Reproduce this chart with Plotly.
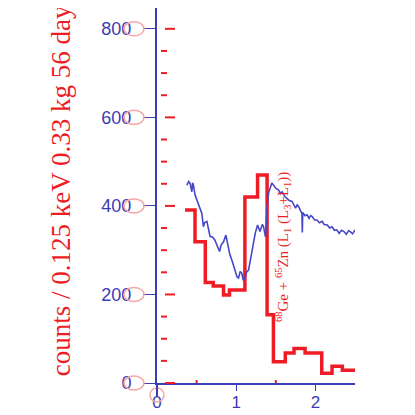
import plotly.graph_objects as go

# ---- data ----
# red histogram : bin edges (keV) and counts per bin
hist_edges = [0.354, 0.48, 0.61, 0.71, 0.84, 0.915, 1.11, 1.27, 1.39, 1.47,
              1.62, 1.73, 1.87, 2.08, 2.21, 2.34, 2.5]
hist_counts = [391, 319, 227, 219, 199, 210, 420, 470, 154, 48,
               68, 78, 68, 22, 38, 29]

# blue spectrum (noisy line)
spec_e = [0.376, 0.40, 0.418, 0.43, 0.44, 0.45, 0.46, 0.48, 0.50, 0.52,
          0.54, 0.566, 0.586, 0.60, 0.63, 0.65, 0.67, 0.70, 0.73, 0.76,
          0.79, 0.81, 0.84, 0.87, 0.90, 0.92, 0.945, 0.97, 0.99, 1.01,
          1.03, 1.05, 1.07, 1.09, 1.11, 1.13, 1.156, 1.18, 1.20, 1.22,
          1.24, 1.27, 1.29, 1.30, 1.33, 1.345, 1.37, 1.39, 1.41, 1.43,
          1.45, 1.47, 1.50, 1.535, 1.56, 1.58, 1.60, 1.62, 1.64, 1.67,
          1.705, 1.73, 1.75, 1.77, 1.79, 1.81, 1.83, 1.835, 1.84, 1.87,
          1.895, 1.92, 1.94, 1.96, 1.99, 2.02, 2.05, 2.085, 2.11, 2.15,
          2.18, 2.21, 2.24, 2.27, 2.30, 2.33, 2.36, 2.39, 2.42, 2.44,
          2.47, 2.5]
spec_c = [447, 455, 451, 440, 432, 452, 447, 425, 414, 405,
          392, 383, 353, 362, 365, 345, 331, 330, 323, 310,
          297, 312, 319, 334, 308, 290, 278, 262, 255, 240,
          237, 252, 248, 232, 237, 250, 255, 280, 301, 320,
          338, 357, 345, 342, 358, 353, 330, 398, 430, 444,
          452, 447, 440, 436, 428, 432, 425, 420, 417, 412,
          410, 400, 395, 402, 398, 390, 383, 340, 385, 378,
          380, 372, 378, 376, 368, 368, 362, 365, 358, 357,
          350, 353, 345, 346, 338, 345, 342, 336, 344, 342,
          337, 346]

y_major = [0, 200, 400, 600, 800]
y_minor = [50, 100, 150, 250, 300, 350, 450, 500, 550, 650, 700, 750]
x_major = [0, 1, 2]
x_minor = [0.5, 1.5]

label_text = ("<sup>68</sup>Ge + <sup>65</sup>Zn (L<sub>1</sub> "
              "(L<sub>3</sub>+L<sub>1</sub>))")
y_title = "counts / 0.125 keV 0.33 kg 56 days"

RED = "#ee1c24"
BLUE = "#3c3cb4"
PINK = "#f4a8a8"
Y_TOP = 847
X_MAX = 2.5

fig = go.Figure()

# histogram as steps
fig.add_trace(go.Scatter(
    x=hist_edges,
    y=hist_counts + [hist_counts[-1]],
    mode="lines",
    line=dict(color=RED, width=3.5, shape="hv"),
    hoverinfo="none"
))

fig.add_trace(go.Scatter(
    x=spec_e,
    y=spec_c,
    mode="lines",
    line=dict(color="#4646c8", width=1.6),
    hoverinfo="none"
))

# =====================================================
# decorations : red ticks, pink circles (scan artefacts)
# paper refs so nothing gets clipped by the plot area
# =====================================================
shapes = []
for v in y_major:
    yp = v / Y_TOP
    shapes.append(dict(type="line", xref="paper", xsizemode="pixel", xanchor=0,
                       x0=8, x1=18, yref="paper", y0=yp, y1=yp,
                       line=dict(color=RED, width=2)))
    shapes.append(dict(type="circle", xref="paper", xsizemode="pixel", xanchor=0,
                       x0=-33, x1=-13, yref="paper", ysizemode="pixel", yanchor=yp,
                       y0=-7, y1=7, line=dict(color=PINK, width=1.5)))
for v in y_minor:
    yp = v / Y_TOP
    shapes.append(dict(type="line", xref="paper", xsizemode="pixel", xanchor=0,
                       x0=4, x1=10, yref="paper", y0=yp, y1=yp,
                       line=dict(color=RED, width=2)))
for v in x_minor:
    xp = v / X_MAX
    shapes.append(dict(type="line", xref="paper", x0=xp, x1=xp, yref="paper",
                       ysizemode="pixel", yanchor=0, y0=0, y1=3,
                       line=dict(color=RED, width=2)))
# circle under the origin and y axis running below 0
shapes.append(dict(type="circle", xref="paper", xsizemode="pixel", xanchor=0,
                   x0=-7, x1=7, yref="paper", ysizemode="pixel", yanchor=0,
                   y0=-19, y1=-5, line=dict(color=PINK, width=1.5)))
shapes.append(dict(type="line", xref="paper", x0=0, x1=0, yref="paper",
                   ysizemode="pixel", yanchor=0, y0=0, y1=-14,
                   line=dict(color=BLUE, width=2)))

# page body has an 8px margin -> figure is 407 wide/high
fig.update_layout(
    width=407, height=407,
    margin=dict(l=149, r=60, t=0, b=32),
    paper_bgcolor="white", plot_bgcolor="white",
    showlegend=False,
    shapes=shapes,
    xaxis=dict(
        range=[0, X_MAX], showgrid=False, zeroline=False, automargin=False,
        showline=True, linecolor=BLUE, linewidth=2,
        tickvals=x_major, ticks="outside", ticklen=6, tickcolor=BLUE,
        tickfont=dict(family="Liberation Sans", size=17, color=BLUE),
        ticklabelstandoff=-3,
    ),
    yaxis=dict(
        range=[0, Y_TOP], showgrid=False, zeroline=False, automargin=False,
        showline=True, linecolor=BLUE, linewidth=2,
        tickvals=y_major, ticks="outside", ticklen=12, tickcolor=BLUE,
        tickfont=dict(family="Liberation Sans", size=18, color=BLUE),
        ticklabelstandoff=8,
    ),
    annotations=[
        dict(text=label_text, x=1.59, y=307, xref="x", yref="y",
             textangle=-90, showarrow=False,
             font=dict(family="Liberation Serif", size=15, color=RED)),
        dict(text=y_title, x=-0.57, y=0.525, xref="paper", yref="paper",
             textangle=-90, showarrow=False,
             font=dict(family="Liberation Serif", size=27, color=RED)),
    ],
)

fig.write_html("out.html")
